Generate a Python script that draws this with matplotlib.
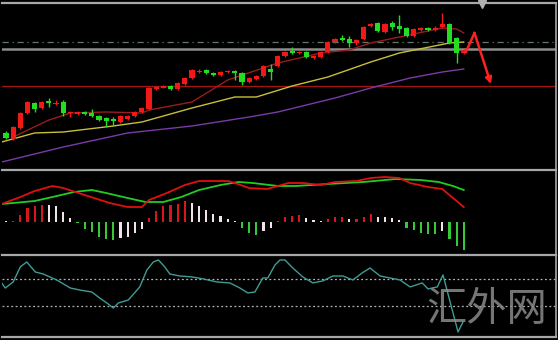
import matplotlib
matplotlib.use('Agg')
import matplotlib.pyplot as plt  # noqa E402
import numpy as np  # noqa E402

# Candles (arbitrary price units), one per bar
opens = [37, 31, 42, 57, 67, 62, 69, 66.5, 68, 57, 56, 58, 57, 54, 52, 51,
         48, 51, 54, 58, 61, 81, 82.5, 84, 81, 86, 92, 98.5, 100, 97, 95, 98,
         99, 97, 88, 91, 94, 101, 104, 114, 119, 117, 118, 112, 113, 118, 128,
         132, 131, 127, 131, 144, 147, 138, 147, 144, 142, 134, 140, 142, 140,
         143, 146, 132, 117]
highs = [39, 44, 58, 69, 68, 69, 72, 70, 70, 59, 59, 59, 61, 55, 53, 53,
         55, 55, 59, 63, 83, 84, 85, 85, 88, 93, 101, 101, 101, 98, 99, 100,
         100, 98, 93, 95, 105, 106, 115, 119, 123, 119, 119, 115, 119, 129, 132,
         135, 134, 131, 144, 147, 148, 147, 149, 155, 143, 142, 143, 143, 144,
         157, 147, 133, 121]
lows = [31, 30, 41, 56, 58, 61, 63, 65, 54, 53, 55, 55, 53, 49, 43, 44,
        47, 50, 53, 57, 60, 80, 82, 80, 80, 85, 91, 97, 96, 94, 94, 97,
        90, 85, 87, 90, 93, 90, 103, 113, 116, 116, 112, 111, 112, 117, 127,
        129, 123, 125, 130, 143, 138, 137, 140, 137, 133, 133, 139, 139, 139,
        142, 126, 107, 116]
closes = [32, 43, 57, 68, 61, 68, 67, 67.5, 57, 58, 58, 56, 54, 50, 49, 49,
          54, 54, 58, 62, 82, 83, 84, 81, 87, 92, 100, 99.5, 97, 95, 98, 99,
          97, 88, 92, 94, 104, 98, 114, 118, 117, 118, 113, 114, 118, 128, 131,
          130, 127, 130, 143, 146, 139, 146, 143, 141, 134, 141, 142, 140, 142.5,
          146, 127, 117, 120]

# Moving averages (bar index, value)
ma_fast_idx = [1, 6, 9, 14, 19, 20, 26, 31, 38, 44, 48, 51, 55, 61, 63, 64]
ma_fast_val = [33, 50, 57, 58, 57, 60, 68, 90, 107, 117, 120, 127, 133, 142,
               141, 137]
ma_mid_idx = [-0.6, 4, 8, 15, 19, 26, 32, 35, 40, 45, 51, 55, 62, 64]
ma_mid_val = [28, 37, 38, 44, 48, 62, 73, 73, 84, 93, 108, 117, 127, 128]
ma_slow_idx = [-0.6, 8, 17, 26, 34, 38, 46, 51, 56.5, 61, 64]
ma_slow_val = [8, 23, 37, 44, 53, 58, 72, 82, 92, 98, 101]

# Horizontal levels
support_level = 84
dashed_level = 128
bid_level = 121

# Hand-drawn arrow (bar index, price)
arrow_x = [64.3, 65.5, 67.8]
arrow_y = [118, 137, 86]

# MACD
macd_hist = [0.3, 0.7, 6.7, 14, 16, 17.3, 17, 16, 10, 4, -1, -7, -9.5, -14.5,
             -16.7, -17.7, -15.5, -14.5, -11, -6.7, 3.7, 10.7, 16, 17.3, 18.3,
             20.7, 19.3, 16, 11.7, 8.3, 6, 3.3, 0.7, -6, -11, -12.7, -8.7, -6,
             0.5, 5, 6.3, 7, 4.3, 2, 0.3, 3.3, 4.7, 4.7, 3, 3.3, 5.3, 8.3, 5.3,
             5.2, 3.7, 2, -6, -7.7, -11, -11.7, -11.7, -9.3, -16.7, -24.3,
             -27.7]
dif_idx = [-0.6, 2, 4, 6.5, 8, 11, 14.5, 17, 19, 20, 22.5, 25, 27, 31, 32, 34,
           36.5, 38, 39.5, 41.5, 44, 46, 49, 51, 53, 55, 56.5, 59, 61, 62.5, 64]
dif_val = [18, 25, 31, 36, 34, 27, 19, 15, 15, 22, 29, 37, 41, 41, 39, 34,
           33, 36, 39, 39, 37, 40, 41, 44, 45, 44, 39, 35, 33, 24, 15]
dea_idx = [-0.6, 1, 4, 6.5, 9.5, 12, 14, 17, 19.5, 22, 24.5, 27, 30, 32.5,
           34.5, 38, 40.5, 45, 50, 54.5, 58, 60.5, 62.5, 64]
dea_val = [18, 19, 21, 25, 30, 32, 29, 24, 20, 20, 25, 32, 37, 40, 39, 36, 36,
           38, 40, 43, 42, 40, 36, 32]

# CCI
cci_idx = [-0.6, -0.1, 1, 2, 2.9, 4.1, 5.2, 7.1, 9, 10.3, 12, 13.1, 14.1, 15,
           15.7, 17.1, 18.7, 19.7, 20.6, 21.3, 22.2, 22.9, 24.3, 26, 27.6,
           29.5, 31.3, 32.7, 33.8, 34.8, 35.9, 36.6, 37.6, 38.3, 39, 40.1, 41.5,
           42.9, 44.3, 45.7, 47.1, 48.5, 49.8, 50.9, 52.3, 53.7, 55.1, 56.5,
           58.2, 59, 60.3, 61.1, 62.1, 63.2, 63.9]
cci_val = [70, 32, 77, 190, 227, 152, 137, 92, 32, 17, 2, -43, -80, -118, -80,
           -58, 40, 167, 227, 242, 190, 137, 122, 115, 100, 77, 70, 32, -5, 2,
           107, 107, 204, 242, 242, 182, 115, 70, 85, 122, 122, 92, 145, 182,
           122, 107, 92, 40, 70, 25, 40, 130, -73, -297, -222]
cci_levels = [100, -100]

UP = '#f21818'
DOWN = '#22dd22'
FRAME = '#a8a8a8'

fig = plt.figure(figsize=(5.58, 3.40), dpi=100, facecolor='black')
W, H = 558.0, 340.0
ax_main = fig.add_axes([2 / W, 1 - 168.5 / H, 554 / W, 165.5 / H])
ax_macd = fig.add_axes([2 / W, 1 - 254 / H, 554 / W, 84.5 / H])
ax_cci = fig.add_axes([2 / W, 1 - 337 / H, 554 / W, 82.5 / H])

for ax in (ax_main, ax_macd, ax_cci):
    ax.set_facecolor('black')
    ax.set_xlim(-0.56, 76.9)
    ax.set_xticks([])
    ax.set_yticks([])
    ax.spines['left'].set_visible(False)
    ax.spines['bottom'].set_visible(False)
    ax.spines['top'].set_color(FRAME)
    ax.spines['top'].set_linewidth(1.6)
    ax.spines['right'].set_color(FRAME)
    ax.spines['right'].set_linewidth(1.2)
ax_cci.spines['bottom'].set_visible(True)
ax_cci.spines['bottom'].set_color(FRAME)
ax_cci.spines['bottom'].set_linewidth(1.6)

# Main panel
x = np.arange(len(opens))
o = np.array(opens)
c = np.array(closes)
col = [UP if cc >= oo else DOWN for oo, cc in zip(o, c)]
ax_main.vlines(x, lows, highs, colors=col, linewidth=1.0, zorder=3)
body = np.maximum(np.abs(c - o), 0.8)
ax_main.bar(x, body, bottom=np.minimum(o, c), width=0.72, color=col,
            linewidth=0, zorder=4)

ax_main.axhline(support_level, color='#a01414', linewidth=1.0, zorder=1)
ax_main.axhline(dashed_level, color='#607a66', linewidth=0.9,
                linestyle=(0, (5, 3, 1, 3)), zorder=1)
ax_main.axhline(bid_level, color='#8c8c8c', linewidth=1.8, zorder=1)

ax_main.plot(ma_fast_idx, ma_fast_val, color='#9a1c1c', linewidth=1.0,
             zorder=2)
ax_main.plot(ma_mid_idx, ma_mid_val, color='#c8bf3a', linewidth=1.0,
             zorder=2)
ax_main.plot(ma_slow_idx, ma_slow_val, color='#7a3aa8', linewidth=1.0,
             zorder=2)

ax_main.plot(arrow_x[:2], arrow_y[:2], color='#ff2020', linewidth=1.8,
             zorder=5)
ax_main.annotate('', xy=(arrow_x[2], arrow_y[2]),
                 xytext=(arrow_x[1], arrow_y[1]),
                 arrowprops=dict(arrowstyle='-|>', color='#ff2020', lw=1.8,
                                 mutation_scale=9, shrinkA=0, shrinkB=0),
                 zorder=5)
ax_main.plot([66.5], [166], marker='v', color='#b0b0b0', markersize=6,
             clip_on=False, zorder=6)
ax_main.set_ylim(1.5, 167)

# MACD panel
hist = np.array(macd_hist)
hcol = []
for i, v in enumerate(hist):
    prev = hist[i - 1] if i > 0 else v
    if v > 0 and v >= prev and i > 0:
        hcol.append('#d81818')
    elif v < 0 and v <= prev and i > 0:
        hcol.append('#36c936')
    else:
        hcol.append('#f2e2ea')
hdraw = np.sign(hist) * np.maximum(np.abs(hist), 1.0)
ax_macd.bar(x, hdraw, width=0.3, color=hcol, linewidth=0)
ax_macd.plot(dea_idx, dea_val, color='#22cc22', linewidth=1.3)
ax_macd.plot(dif_idx, dif_val, color='#e01010', linewidth=1.3)
ax_macd.set_ylim(-32, 52.5)

# CCI panel
for lvl in cci_levels:
    ax_cci.axhline(lvl, color='#b4b4b4', linewidth=0.9, linestyle=(0, (1.5, 2)))
ax_cci.plot(cci_idx, cci_val, color='#3f9c94', linewidth=1.0)
ax_cci.set_ylim(-335, 283)

fig.text(487 / W, 1 - 310 / H, '汇外网', fontsize=29, color='#8a8a8a',
         family=['Noto Sans CJK SC', 'DejaVu Sans'], fontweight='light',
         ha='center', va='center', alpha=0.85)

fig.savefig('out.png', dpi=100, facecolor='black')
plt.close(fig)
